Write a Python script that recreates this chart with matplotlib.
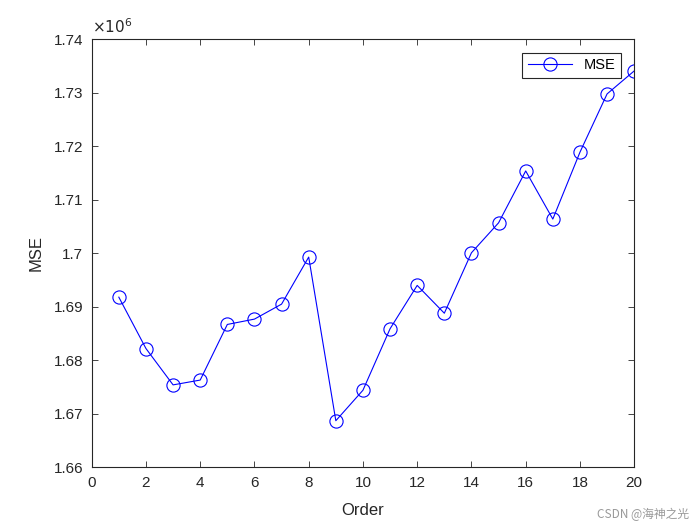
import matplotlib
matplotlib.use("Agg")
import matplotlib.pyplot as plt
from matplotlib.ticker import FuncFormatter, MultipleLocator

plt.rcParams["font.family"] = ["Liberation Sans", "DejaVu Sans"]

# ── Datos ──
order = list(range(1, 21))
mse = [1691800, 1682200, 1675400, 1676300, 1686700, 1687700, 1690500, 1699300,
       1668700, 1674400, 1685900, 1694000, 1688800, 1700100, 1705700, 1715400,
       1706400, 1718900, 1729800, 1734100]

ejes = "#262626"

fig = plt.figure(figsize=(7, 5.25), dpi=100)
ax = fig.add_axes([0.131, 0.110, 0.775, 0.815])

ax.plot(order, mse, "-o", color="blue", linewidth=0.8, markersize=9.5,
        markerfacecolor="none", markeredgewidth=0.8, label="MSE")

ax.set_xlim(0, 20)
ax.set_ylim(1.66e6, 1.74e6)
ax.xaxis.set_major_locator(MultipleLocator(2))
ax.yaxis.set_major_locator(MultipleLocator(0.01e6))
ax.yaxis.set_major_formatter(FuncFormatter(lambda v, p: f"{v / 1e6:g}"))

ax.tick_params(direction="in", top=True, right=True, length=4, width=0.6,
               colors=ejes, labelsize=11, pad=6)
for s in ax.spines.values():
    s.set_color(ejes)
    s.set_linewidth(0.8)

ax.set_xlabel("Order", fontsize=12, color=ejes, labelpad=10)
ax.set_ylabel("MSE", fontsize=12, color=ejes, labelpad=7)
ax.text(0.0, 1.008, r"$\times10^{6}$", transform=ax.transAxes, fontsize=11,
        color=ejes, ha="left", va="bottom")

leg = ax.legend(loc="upper right", fontsize=10.5, fancybox=False,
                edgecolor=ejes, framealpha=1, borderaxespad=0.9,
                handlelength=3.0)
leg.get_frame().set_linewidth(0.8)

fig.text(0.985, 0.008, "CSDN @海神之光", ha="right", va="bottom", fontsize=8.5,
         color="#999999", family=["Noto Sans CJK SC", "DejaVu Sans"])

plt.savefig("out.png", dpi=100)
plt.close()
